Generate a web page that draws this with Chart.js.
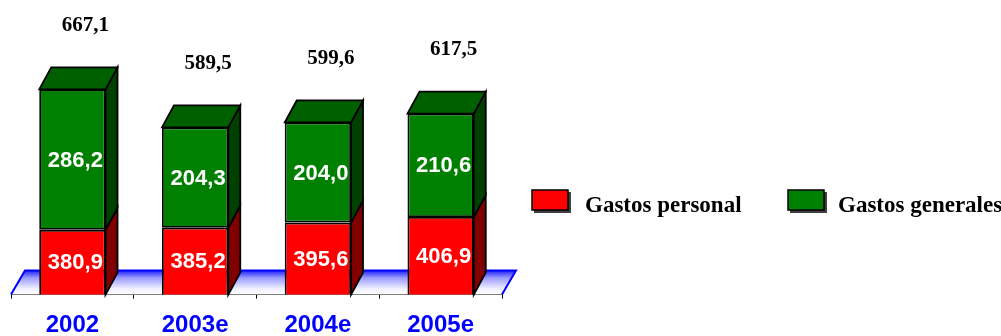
<!DOCTYPE html>
<html>
<head>
<meta charset="utf-8">
<script src="https://cdn.jsdelivr.net/npm/chart.js@4.4.0/dist/chart.umd.min.js"></script>
<style>
    html, body { margin: 0; padding: 0; background: #fff; }
    #wrap { width: 1001px; height: 336px; position: relative; }
</style>
</head>
<body>
<div id="wrap"><canvas id="gastosChart"></canvas></div>
<script>
// data
const years = ['2002', '2003e', '2004e', '2005e'];
const gastosPersonal = [380.9, 385.2, 395.6, 406.9];
const gastosGenerales = [286.2, 204.3, 204.0, 210.6];
const totales = [667.1, 589.5, 599.6, 617.5];
const seriesNames = ['Gastos personal', 'Gastos generales'];

const frontColors = ['#ff0000', '#008000'];
const sideColors = ['#800000', '#004000'];
const topColor = '#006000';
const depth = { dx: 12, dy: -22 };
const floorDepth = { dx: 14, dy: -24 };

function fmt(v) {
    return v.toFixed(1).replace('.', ',');
}

function poly(ctx, pts, fill, stroke, lw) {
    ctx.beginPath();
    ctx.moveTo(pts[0][0], pts[0][1]);
    for (let i = 1; i < pts.length; i++) ctx.lineTo(pts[i][0], pts[i][1]);
    ctx.closePath();
    if (fill) { ctx.fillStyle = fill; ctx.fill(); }
    if (stroke) { ctx.strokeStyle = stroke; ctx.lineWidth = lw; ctx.stroke(); }
}

// floor + side/top faces of the bars
const bars3d = {
    id: 'bars3d',
    beforeDatasetsDraw(chart) {
        const ctx = chart.ctx;
        const a = chart.chartArea;
        ctx.save();
        // floor
        const g = ctx.createLinearGradient(0, a.bottom + floorDepth.dy, 0, a.bottom);
        g.addColorStop(0, '#2020ff');
        g.addColorStop(0.3, '#9a9aff');
        g.addColorStop(0.75, '#f0f0ff');
        g.addColorStop(1, '#ffffff');
        const fl = [
            [a.left, a.bottom],
            [a.left + floorDepth.dx, a.bottom + floorDepth.dy],
            [a.right + floorDepth.dx, a.bottom + floorDepth.dy],
            [a.right, a.bottom]
        ];
        poly(ctx, fl, g, null, 0);
        ctx.beginPath();
        ctx.moveTo(fl[0][0], fl[0][1]);
        ctx.lineTo(fl[1][0], fl[1][1]);
        ctx.lineTo(fl[2][0], fl[2][1]);
        ctx.lineTo(fl[3][0], fl[3][1]);
        ctx.strokeStyle = '#0000ff';
        ctx.lineWidth = 2;
        ctx.stroke();

        // side faces and top face
        chart.data.datasets.forEach((ds, di) => {
            const meta = chart.getDatasetMeta(di);
            meta.data.forEach(bar => {
                const p = bar.getProps(['x', 'y', 'base', 'width'], true);
                const right = p.x + p.width / 2;
                const left = p.x - p.width / 2;
                const top = p.y;
                const bottom = Math.min(p.base, a.bottom);
                poly(ctx, [
                    [right, bottom],
                    [right, top],
                    [right + depth.dx, top + depth.dy],
                    [right + depth.dx, bottom + depth.dy]
                ], sideColors[di], '#000', 1.8);
                if (di === chart.data.datasets.length - 1) {
                    poly(ctx, [
                        [left, top],
                        [left + depth.dx, top + depth.dy],
                        [right + depth.dx, top + depth.dy],
                        [right, top]
                    ], topColor, '#000', 1.8);
                }
            });
        });
        ctx.restore();
    },
    afterDatasetsDraw(chart) {
        const ctx = chart.ctx;
        const a = chart.chartArea;
        ctx.save();
        ctx.textAlign = 'center';
        ctx.textBaseline = 'middle';
        chart.data.datasets.forEach((ds, di) => {
            const meta = chart.getDatasetMeta(di);
            meta.data.forEach((bar, i) => {
                const p = bar.getProps(['x', 'y', 'base'], true);
                const bottom = Math.min(p.base, a.bottom);
                ctx.fillStyle = '#ffffff';
                ctx.font = 'bold 22px Arial, "Liberation Sans", sans-serif';
                ctx.fillText(fmt(ds.data[i]), p.x + 3, (p.y + bottom) / 2 + 1);
            });
        });
        // totals above the bars
        const last = chart.getDatasetMeta(chart.data.datasets.length - 1);
        ctx.fillStyle = '#000';
        ctx.font = 'bold 21px "Times New Roman", "Liberation Serif", serif';
        last.data.forEach((bar, i) => {
            ctx.fillText(fmt(totales[i]), bar.x + 13, bar.y - 64);
        });
        ctx.restore();
    },
    afterDraw(chart) {
        const ctx = chart.ctx;
        ctx.save();
        const items = [
            { box: 532, text: 585 },
            { box: 788, text: 838 }
        ];
        items.forEach((it, i) => {
            ctx.fillStyle = '#404040';
            ctx.fillRect(it.box + 2, 192, 37, 21);
            ctx.fillStyle = frontColors[i];
            ctx.fillRect(it.box, 190, 36, 20);
            ctx.strokeStyle = '#000';
            ctx.lineWidth = 1.5;
            ctx.strokeRect(it.box, 190, 36, 20);
            ctx.fillStyle = '#000';
            ctx.font = 'bold 23px "Times New Roman", "Liberation Serif", serif';
            ctx.textAlign = 'left';
            ctx.textBaseline = 'middle';
            ctx.fillText(seriesNames[i], it.text, 206);
        });
        ctx.restore();
    }
};

new Chart(document.getElementById('gastosChart'), {
    type: 'bar',
    data: {
        labels: years,
        datasets: [
            {
                label: seriesNames[0],
                data: gastosPersonal,
                backgroundColor: frontColors[0],
                borderColor: '#000',
                borderWidth: 1.8,
                borderSkipped: false
            },
            {
                label: seriesNames[1],
                data: gastosGenerales,
                backgroundColor: frontColors[1],
                borderColor: '#000',
                borderWidth: 1.8,
                borderSkipped: false
            }
        ]
    },
    options: {
        responsive: true,
        maintainAspectRatio: false,
        animation: false,
        layout: {
            padding: { left: 11, right: 499, top: 0, bottom: -17 }
        },
        datasets: {
            bar: {
                categoryPercentage: 1,
                barPercentage: 0.54
            }
        },
        plugins: {
            legend: { display: false },
            tooltip: { enabled: false }
        },
        scales: {
            x: {
                stacked: true,
                grid: {
                    drawOnChartArea: false,
                    color: '#000',
                    tickLength: 4,
                    offset: true
                },
                border: { color: '#000', width: 1 },
                ticks: {
                    color: '#0000ff',
                    padding: 17,
                    font: { family: 'Arial, "Liberation Sans", sans-serif', size: 24, weight: 'bold', lineHeight: 0.85 }
                }
            },
            y: {
                stacked: true,
                display: false,
                min: 249,
                max: 849
            }
        }
    },
    plugins: [bars3d]
});
</script>
</body>
</html>
